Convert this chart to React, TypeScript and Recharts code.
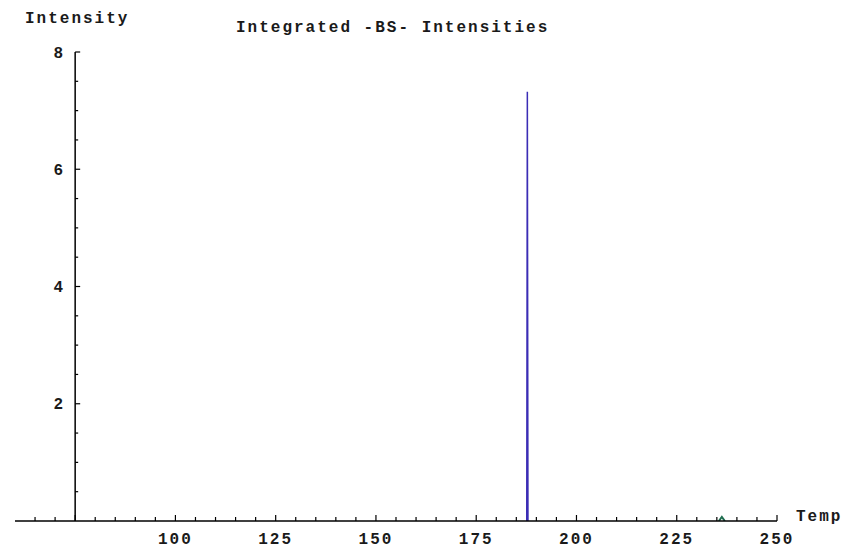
import { LineChart, Line, XAxis, YAxis, ReferenceLine } from "recharts";

// BS peak (blue spike)
const bsTemp = [187.6, 187.75, 187.9];
const bsIntensity = [0, 7.32, 0];

// small second peak (green)
const minorTemp = [235.5, 236.25, 237];
const minorIntensity = [0, 0.07, 0];

const xTicks = [
  65, 70, 75, 80, 85, 90, 95, 100, 105, 110, 115, 120, 125, 130, 135, 140,
  145, 150, 155, 160, 165, 170, 175, 180, 185, 190, 195, 200, 205, 210, 215,
  220, 225, 230, 235, 240, 245, 250,
];
const yTicks = [
  0.5, 1, 1.5, 2, 2.5, 3, 3.5, 4, 4.5, 5, 5.5, 6, 6.5, 7, 7.5, 8,
];

const bsData = bsTemp.map((t, i) => ({ temp: t, value: bsIntensity[i] }));
const minorData = minorTemp.map((t, i) => ({ temp: t, value: minorIntensity[i] }));

const FONT = "'Liberation Mono', 'DejaVu Sans Mono', monospace";
const textStyle = {
  fontFamily: FONT,
  fontSize: 16,
  fontWeight: 600,
  letterSpacing: 2,
  fill: "#1a1a1a",
};

// x ticks point up into the plot, labels only on the 25s
const XTick = (props: any) => {
  const { x, y, payload } = props;
  const v = payload.value;
  const major = v % 25 === 0;
  return (
    <g>
      <line x1={x} x2={x} y1={y} y2={y - (major ? 6 : 4)} stroke="#000" strokeWidth={1.2} />
      {major && v >= 100 && (
        <text x={x} y={y + 19} textAnchor="middle" dominantBaseline="central" style={textStyle}>
          {v}
        </text>
      )}
    </g>
  );
};

const App = () => {
  return (
    <div style={{ position: "absolute", left: 0, top: 0, width: 851, height: 554, background: "#fff" }}>
      <div style={{ position: "absolute", left: 25, top: 10, ...textStyle, color: "#1a1a1a" }}>Intensity</div>
      <div style={{ position: "absolute", left: 236, top: 19, ...textStyle, color: "#1a1a1a" }}>
        Integrated -BS- Intensities
      </div>
      <div style={{ position: "absolute", left: 796, top: 508, ...textStyle, color: "#1a1a1a" }}>Temp</div>
      <LineChart
        width={851}
        height={554}
        margin={{ top: 52, right: 74, left: 15, bottom: 0 }}
      >
        <XAxis
          dataKey="temp"
          type="number"
          domain={[60, 250]}
          ticks={xTicks}
          interval={0}
          height={33}
          tickSize={0}
          tickMargin={0}
          tickLine={false}
          axisLine={{ stroke: "#000", strokeWidth: 1.5 }}
          tick={<XTick />}
          allowDataOverflow
        />
        <YAxis hide type="number" domain={[0, 8]} allowDataOverflow />
        <ReferenceLine
          segment={[{ x: 75, y: 0 }, { x: 75, y: 8 }]}
          stroke="#000"
          strokeWidth={1.5}
        />
        {yTicks.map((v) => (
          <ReferenceLine
            key={v}
            segment={[{ x: 75, y: v }, { x: v % 2 === 0 ? 76.25 : 75.75, y: v }]}
            stroke="#000"
            strokeWidth={1.2}
            label={
              v % 2 === 0
                ? { value: String(v), position: "left", offset: 10, ...textStyle }
                : undefined
            }
          />
        ))}
        <Line
          data={bsData}
          dataKey="value"
          type="linear"
          stroke="#3b2db5"
          strokeWidth={1.5}
          dot={false}
          isAnimationActive={false}
        />
        <Line
          data={minorData}
          dataKey="value"
          type="linear"
          stroke="#1f6e50"
          strokeWidth={2}
          dot={false}
          isAnimationActive={false}
        />
      </LineChart>
    </div>
  );
};

export default App;
